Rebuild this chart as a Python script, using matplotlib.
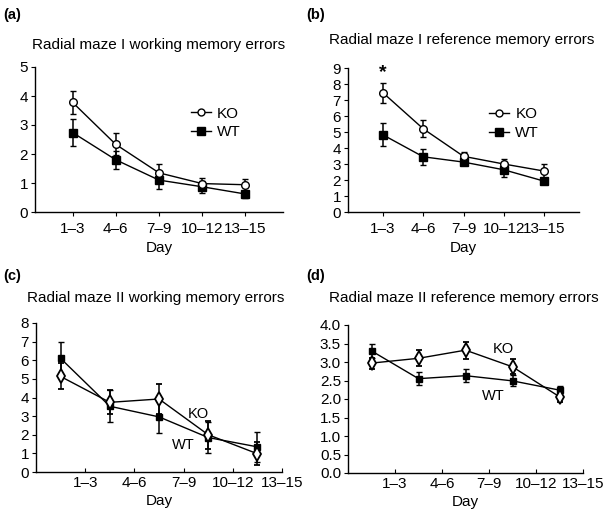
import matplotlib
matplotlib.use('Agg')
import matplotlib.pyplot as plt
from matplotlib.lines import Line2D

plt.rcParams['font.family'] = ['Liberation Sans', 'DejaVu Sans']
plt.rcParams['font.size'] = 11

days = ['1\u20133', '4\u20136', '7\u20139', '10\u201312', '13\u201315']

# radial maze I
a_ko = [3.78, 2.33, 1.35, 0.98, 0.94]
a_ko_err = [0.4, 0.38, 0.3, 0.2, 0.2]
a_wt = [2.74, 1.80, 1.10, 0.87, 0.62]
a_wt_err = [0.45, 0.3, 0.3, 0.2, 0.12]

b_ko = [7.45, 5.2, 3.48, 3.0, 2.56]
b_ko_err = [0.62, 0.52, 0.3, 0.3, 0.45]
b_wt = [4.82, 3.45, 3.12, 2.64, 1.93]
b_wt_err = [0.72, 0.5, 0.15, 0.45, 0.2]

# radial maze II
c_ko = [5.13, 3.74, 3.92, 2.0, 0.98]
c_ko_err = [0.7, 0.65, 0.8, 0.75, 0.62]
c_wt = [6.1, 3.53, 2.96, 1.85, 1.35]
c_wt_err = [0.9, 0.85, 0.85, 0.85, 0.8]

d_ko = [2.97, 3.10, 3.32, 2.87, 2.06]
d_ko_err = [0.15, 0.22, 0.23, 0.2, 0.15]
d_wt = [3.30, 2.55, 2.63, 2.49, 2.24]
d_wt_err = [0.18, 0.18, 0.17, 0.15, 0.12]

W, H = 609, 516
fig = plt.figure(figsize=(W / 100, H / 100), dpi=100)

def box(l, r, t, b):
    return [l / W, 1 - b / H, (r - l) / W, (b - t) / H]

ax_a = fig.add_axes(box(35, 283, 67, 212))
ax_b = fig.add_axes(box(348, 579, 68, 212))
ax_c = fig.add_axes(box(36, 282, 323, 472))
ax_d = fig.add_axes(box(348, 583, 325, 473))

def style(ax):
    ax.spines['top'].set_visible(False)
    ax.spines['right'].set_visible(False)
    for s in ['left', 'bottom']:
        ax.spines[s].set_linewidth(1.0)
    ax.tick_params(length=3, width=0.8, pad=2)

ebkw = dict(color='black', lw=1.0, elinewidth=1.1, capsize=2, capthick=1.0)

# top row: circles / squares on the ticks
x1 = [1, 2, 3, 4, 5]
for ax, ko, koe, wt, wte, ymax in [(ax_a, a_ko, a_ko_err, a_wt, a_wt_err, 5),
                                   (ax_b, b_ko, b_ko_err, b_wt, b_wt_err, 9)]:
    ax.errorbar(x1, wt, yerr=wte, marker='s', ms=6, mfc='black', mec='black',
                zorder=2, **ebkw)
    ax.errorbar(x1, ko, yerr=koe, marker='o', ms=5.5, mfc='white', mec='black',
                mew=1.0, zorder=3, **ebkw)
    style(ax)
    ax.set_xlim(0.13, 5.87)
    ax.set_ylim(0, ymax)
    ax.set_yticks(range(ymax + 1))
    ax.set_xticks(x1)
    ax.set_xticklabels(days)
    ax.tick_params(axis='x', pad=4)
    ax.set_xlabel('Day', labelpad=4)
    h = [Line2D([], [], color='black', lw=1.0, marker='o', ms=5, mfc='white', mec='black'),
         Line2D([], [], color='black', lw=1.0, marker='s', ms=6, mfc='black', mec='black')]
    ax.legend(h, ['KO', 'WT'], frameon=False, loc='upper right',
              bbox_to_anchor=(0.86, 0.78), handlelength=1.3, handletextpad=0.4,
              labelspacing=0.3, borderpad=0)

ax_b.text(1, 8.7, '*', ha='center', va='center', fontsize=14, fontweight='bold')

# bottom row: points between the ticks
x2 = [0.5, 1.5, 2.5, 3.5, 4.5]
for ax, ko, koe, wt, wte, ymax, yt in [(ax_c, c_ko, c_ko_err, c_wt, c_wt_err, 8, range(9)),
                                       (ax_d, d_ko, d_ko_err, d_wt, d_wt_err, 4.0,
                                        [i * 0.5 for i in range(9)])]:
    ax.errorbar(x2, wt, yerr=wte, marker='s', ms=4, mfc='black', mec='black',
                zorder=2, **ebkw)
    ax.errorbar(x2, ko, yerr=koe, marker='d', ms=7, mfc='white', mec='black',
                mew=1.3, zorder=3, **ebkw)
    style(ax)
    ax.set_xlim(0, 5)
    ax.set_ylim(0, ymax)
    ax.set_yticks(list(yt))
    ax.set_xticks(x1)
    ax.set_xticklabels(days)
    ax.tick_params(axis='x', direction='in', pad=3)
    ax.set_xlabel('Day', labelpad=3)

ax_d.set_yticklabels(['%.1f' % v for v in ax_d.get_yticks()])
ax_c.text(3.3, 3.1, 'KO', ha='center', va='center', fontsize=10.5)
ax_c.text(3.0, 1.45, 'WT', ha='center', va='center', fontsize=10.5)
ax_d.text(3.3, 3.35, 'KO', ha='center', va='center', fontsize=10.5)
ax_d.text(3.1, 2.08, 'WT', ha='center', va='center', fontsize=10.5)

# panel letters and titles
for lbl, x, y in [('(a)', 3, 15), ('(b)', 306, 15), ('(c)', 3, 276), ('(d)', 306, 276)]:
    fig.text(x / W, 1 - y / H, lbl, ha='left', va='center', fontsize=10.5, fontweight='bold')
for ttl, x, y in [('Radial maze I working memory errors', 159, 45),
                  ('Radial maze I reference memory errors', 462, 40),
                  ('Radial maze II working memory errors', 156, 298),
                  ('Radial maze II reference memory errors', 464, 298)]:
    fig.text(x / W, 1 - y / H, ttl, ha='center', va='center', fontsize=11)

fig.savefig('out.png', dpi=100)
